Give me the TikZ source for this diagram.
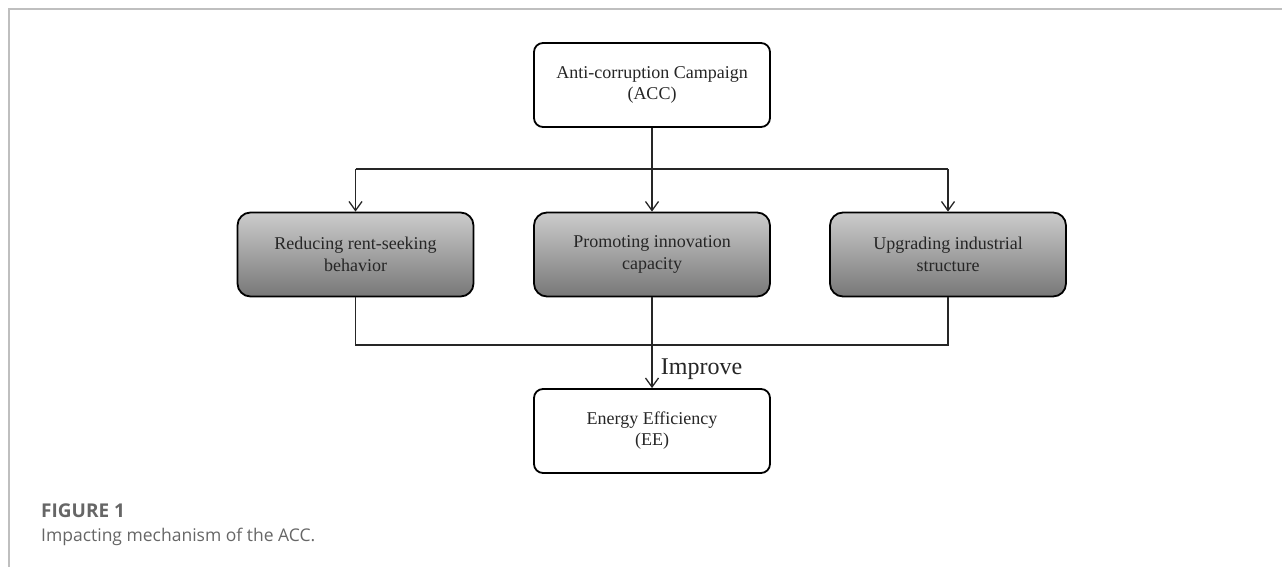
\documentclass[tikz,border=0pt]{standalone}
\usepackage{fontspec}
\setmainfont{Liberation Serif}
\newfontfamily\capfont{Open Sans}
\usetikzlibrary{arrows.meta,positioning}
\begin{document}
\begin{tikzpicture}[x=1pt,y=-1pt,
  whitebox/.style={draw=black,line width=1.8pt,rounded corners=9pt,fill=white,
    minimum width=236pt,minimum height=84pt,align=center,font=\fontsize{18}{21}\selectfont,text=black!85},
  graybox/.style={draw=black,line width=1.8pt,rounded corners=13pt,
    top color=black!20,bottom color=black!53,
    minimum width=236pt,minimum height=84pt,align=center,font=\fontsize{18}{22}\selectfont,text=black!85},
  conn/.style={line width=1.3pt,draw=black!85},
  arr/.style={conn,-{Straight Barb[length=9pt,width=13pt,line width=1.3pt]}},
  frameline/.style={draw=black!25,line width=1.2pt}]
\useasboundingbox (0,0) rectangle (1282,567);
\draw[frameline] (9,567) -- (9,9) -- (1282,9);
\node[whitebox] (acc) at (652,85) {Anti-corruption Campaign\\(ACC)};
\node[graybox] (rb) at (355.5,254.5) {Reducing rent-seeking\\behavior};
\node[graybox] (pi) at (652,254.5) {Promoting innovation\\capacity};
\node[graybox] (ui) at (948,254.5) {Upgrading industrial\\structure};
\node[whitebox] (ee) at (652,431) {Energy Efficiency\\(EE)};
\coordinate (tl) at (355.5,169);
\coordinate (tr) at (948,169);
\coordinate (tm) at (652,169);
\coordinate (bl) at (355.5,345);
\coordinate (br) at (948,345);
\coordinate (bm) at (652,345);
\draw[conn] (acc.south) -- (tm);
\draw[conn] (tl) -- (tr);
\draw[arr] (tl) -- (rb.north);
\draw[arr] (tm) -- (pi.north);
\draw[arr] (tr) -- (ui.north);
\draw[conn] (rb.south) -- (bl) -- (br) -- (ui.south);
\draw[conn] (pi.south) -- (bm);
\draw[arr] (bm) -- node[right=5pt,font=\fontsize{24}{28}\selectfont,text=black!85,yshift=-3pt] (imp) {Improve} (ee.north);
\node[anchor=base west,font=\capfont\bfseries\fontsize{19}{22}\selectfont,text=black!60,inner sep=0pt] (fig) at (41,517) {FIGURE 1};
\node[anchor=base west,font=\capfont\fontsize{17.5}{22}\selectfont,text=black!60,inner sep=0pt] (cap) at (41,541) {Impacting mechanism of the ACC.};
\end{tikzpicture}
\end{document}
